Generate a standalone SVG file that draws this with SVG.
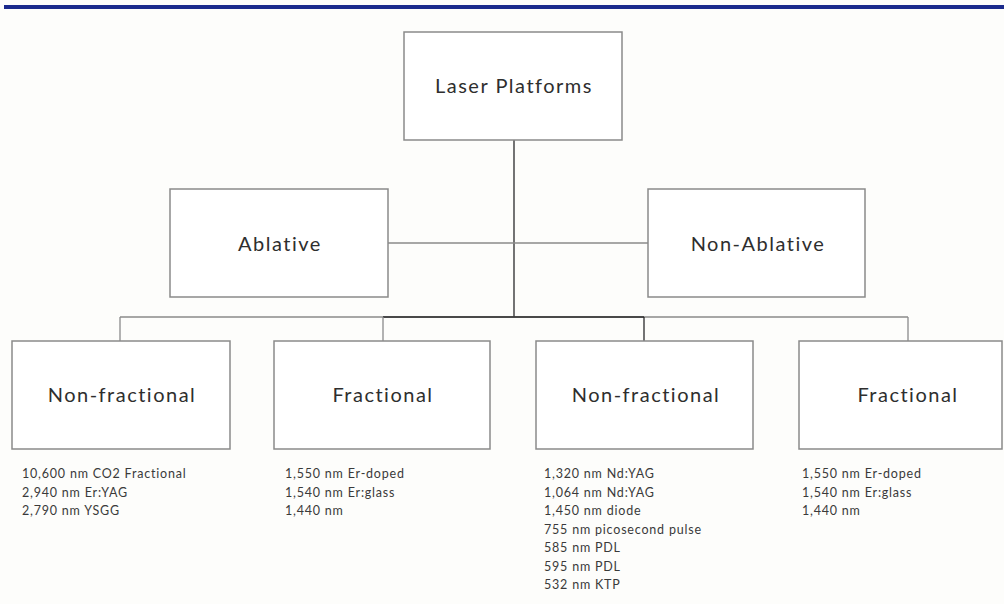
<svg xmlns="http://www.w3.org/2000/svg" width="1004" height="604" viewBox="0 0 1004 604">
<style>
.bg{fill:#fdfdfb}
.box{fill:#ffffff;stroke:#8a8a8a;stroke-width:1.5}
.lbl{font-family:Lato,"Liberation Sans",sans-serif;font-size:20px;letter-spacing:1.5px;fill:#2e2e2e;text-anchor:middle}
.lst{font-family:Lato,"Liberation Sans",sans-serif;font-size:12.5px;letter-spacing:0.8px;fill:#3a3a3a}
.ln{stroke:#8a8a8a;stroke-width:1.3;fill:none}
.lnd{stroke:#2a2a2a;stroke-width:1.3;fill:none}
</style>
<rect class="bg" x="0" y="0" width="1004" height="604"/>
<rect x="4" y="5" width="1000" height="4" fill="#1b2a8c"/>
<g id="connectors">
<line class="lnd" x1="514" y1="140" x2="514" y2="317"/>
<line class="ln" x1="388" y1="243" x2="648" y2="243"/>
<line class="ln" x1="120" y1="317" x2="908" y2="317"/>
<line class="lnd" x1="383" y1="317" x2="644" y2="317"/>
<line class="ln" x1="120" y1="317" x2="120" y2="341"/>
<line class="ln" x1="383" y1="317" x2="383" y2="341"/>
<line class="lnd" x1="644" y1="317" x2="644" y2="341"/>
<line class="ln" x1="908" y1="317" x2="908" y2="341"/>
</g>
<g id="laser-platforms">
<rect class="box" x="404" y="32" width="218" height="108"/>
<text class="lbl" x="514" y="93">Laser Platforms</text>
</g>
<g id="ablative">
<rect class="box" x="170" y="189" width="218" height="108"/>
<text class="lbl" x="280" y="251">Ablative</text>
</g>
<g id="non-ablative">
<rect class="box" x="648" y="189" width="217" height="108"/>
<text class="lbl" x="758" y="251">Non-Ablative</text>
</g>
<g id="abl-nonfractional">
<rect class="box" x="12" y="341" width="218" height="108"/>
<text class="lbl" x="122" y="402">Non-fractional</text>
<text class="lst" x="22" y="478">10,600 nm CO2 Fractional</text>
<text class="lst" x="22" y="497">2,940 nm Er:YAG</text>
<text class="lst" x="22" y="515">2,790 nm YSGG</text>
</g>
<g id="abl-fractional">
<rect class="box" x="274" y="341" width="216" height="108"/>
<text class="lbl" x="383" y="402">Fractional</text>
<text class="lst" x="285" y="478">1,550 nm Er-doped</text>
<text class="lst" x="285" y="497">1,540 nm Er:glass</text>
<text class="lst" x="285" y="515">1,440 nm</text>
</g>
<g id="nonabl-nonfractional">
<rect class="box" x="536" y="341" width="217" height="108"/>
<text class="lbl" x="646" y="402">Non-fractional</text>
<text class="lst" x="544" y="478">1,320 nm Nd:YAG</text>
<text class="lst" x="544" y="497">1,064 nm Nd:YAG</text>
<text class="lst" x="544" y="515">1,450 nm diode</text>
<text class="lst" x="544" y="534">755 nm picosecond pulse</text>
<text class="lst" x="544" y="552">585 nm PDL</text>
<text class="lst" x="544" y="571">595 nm PDL</text>
<text class="lst" x="544" y="589">532 nm KTP</text>
</g>
<g id="nonabl-fractional">
<rect class="box" x="799" y="341" width="203" height="108"/>
<text class="lbl" x="908" y="402">Fractional</text>
<text class="lst" x="802" y="478">1,550 nm Er-doped</text>
<text class="lst" x="802" y="497">1,540 nm Er:glass</text>
<text class="lst" x="802" y="515">1,440 nm</text>
</g>
</svg>
